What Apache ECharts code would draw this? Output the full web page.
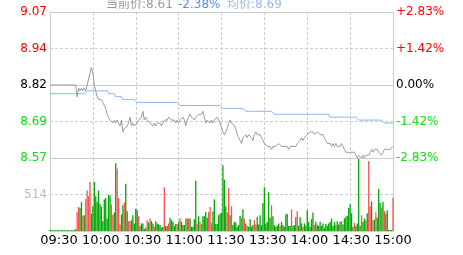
<!DOCTYPE html>
<html><head><meta charset="utf-8">
<script src="https://cdn.jsdelivr.net/npm/echarts@6/dist/echarts.min.js"></script>
<style>html,body{margin:0;padding:0;background:#fff}#c{width:463px;height:255px}</style>
</head><body><div id="c"></div>
<script>
const prevClose = 8.82;
const priceStep = 0.1248;
const prices = [
 8.82,8.82,8.82,8.82,8.82,8.82,8.82,8.82,8.82,8.82,
 8.82,8.82,8.82,8.82,8.82,8.82,8.82,8.82,8.82,8.78,
 8.81,8.80,8.81,8.80,8.81,8.80,8.82,8.84,8.86,8.88,
 8.86,8.82,8.80,8.78,8.77,8.77,8.77,8.76,8.75,8.74,
 8.72,8.71,8.70,8.70,8.69,8.70,8.69,8.70,8.69,8.68,
 8.70,8.66,8.67,8.67,8.68,8.69,8.71,8.68,8.69,8.68,
 8.68,8.69,8.70,8.70,8.71,8.73,8.70,8.71,8.70,8.70,
 8.69,8.69,8.68,8.69,8.68,8.69,8.69,8.69,8.68,8.69,
 8.70,8.70,8.70,8.71,8.71,8.70,8.70,8.70,8.69,8.70,
 8.69,8.70,8.70,8.71,8.70,8.68,8.70,8.71,8.72,8.71,
 8.71,8.70,8.71,8.71,8.72,8.72,8.72,8.73,8.71,8.69,
 8.70,8.70,8.69,8.70,8.69,8.70,8.70,8.71,8.70,8.69,
 8.69,8.66,8.65,8.66,8.67,8.69,8.70,8.69,8.69,8.68,
 8.67,8.65,8.64,8.63,8.62,8.64,8.64,8.65,8.64,8.65,
 8.65,8.64,8.63,8.65,8.66,8.65,8.65,8.65,8.64,8.63,
 8.62,8.62,8.61,8.61,8.61,8.60,8.61,8.61,8.61,8.61,
 8.62,8.62,8.61,8.61,8.61,8.61,8.61,8.60,8.61,8.61,
 8.61,8.61,8.61,8.62,8.62,8.63,8.64,8.63,8.64,8.64,
 8.65,8.65,8.66,8.66,8.66,8.65,8.65,8.66,8.66,8.65,
 8.65,8.65,8.64,8.63,8.62,8.62,8.62,8.61,8.62,8.61,
 8.62,8.61,8.61,8.61,8.62,8.61,8.60,8.59,8.59,8.59,
 8.59,8.59,8.59,8.59,8.58,8.57,8.58,8.58,8.57,8.58,
 8.57,8.58,8.58,8.58,8.59,8.60,8.59,8.60,8.60,8.60,
 8.59,8.59,8.58,8.59,8.60,8.60,8.60,8.60,8.60,8.60,
 8.61];
const avgPrices = [
 8.79,8.79,8.79,8.79,8.79,8.79,8.79,8.79,8.79,8.79,
 8.79,8.79,8.79,8.79,8.79,8.79,8.79,8.79,8.79,8.79,
 8.79,8.79,8.79,8.79,8.79,8.79,8.80,8.80,8.80,8.80,
 8.80,8.80,8.80,8.80,8.80,8.80,8.80,8.80,8.80,8.80,
 8.80,8.79,8.79,8.79,8.79,8.79,8.78,8.78,8.78,8.78,
 8.78,8.77,8.77,8.77,8.77,8.77,8.77,8.77,8.77,8.77,
 8.77,8.76,8.76,8.76,8.76,8.76,8.76,8.76,8.76,8.76,
 8.76,8.76,8.76,8.76,8.76,8.76,8.76,8.76,8.76,8.76,
 8.76,8.76,8.76,8.76,8.76,8.76,8.76,8.76,8.76,8.76,
 8.76,8.75,8.75,8.75,8.75,8.75,8.75,8.75,8.75,8.75,
 8.75,8.75,8.75,8.75,8.75,8.75,8.75,8.75,8.75,8.75,
 8.75,8.75,8.75,8.75,8.75,8.75,8.75,8.75,8.75,8.75,
 8.75,8.74,8.74,8.74,8.74,8.74,8.74,8.74,8.74,8.74,
 8.74,8.74,8.74,8.74,8.74,8.74,8.74,8.73,8.73,8.73,
 8.73,8.73,8.73,8.73,8.73,8.73,8.73,8.73,8.73,8.73,
 8.73,8.73,8.73,8.73,8.73,8.73,8.73,8.72,8.72,8.72,
 8.72,8.72,8.72,8.72,8.72,8.72,8.72,8.72,8.72,8.72,
 8.72,8.72,8.72,8.72,8.72,8.72,8.72,8.72,8.72,8.72,
 8.72,8.72,8.72,8.72,8.72,8.72,8.72,8.72,8.72,8.72,
 8.72,8.72,8.72,8.72,8.72,8.72,8.71,8.71,8.71,8.71,
 8.71,8.71,8.71,8.71,8.71,8.71,8.71,8.71,8.71,8.71,
 8.71,8.71,8.71,8.71,8.71,8.71,8.70,8.70,8.70,8.70,
 8.70,8.70,8.70,8.70,8.70,8.70,8.70,8.70,8.70,8.70,
 8.70,8.70,8.70,8.70,8.69,8.69,8.69,8.69,8.69,8.69,
 8.69];
const volumes = [
 15,12,12,12,12,12,12,12,12,12,
 12,12,12,12,12,12,12,12,28,268,
 338,324,407,213,222,449,570,491,695,245,
 352,695,491,407,570,375,338,139,445,463,
 176,510,500,375,230,259,955,880,463,93,
 230,361,398,667,278,139,139,153,222,107,
 315,292,208,70,107,107,28,46,153,120,
 176,139,107,65,139,107,93,83,46,56,
 616,70,70,107,185,153,130,70,97,97,
 130,176,130,83,83,176,176,176,176,60,
 60,167,709,102,208,130,97,208,208,268,
 185,268,338,116,278,445,97,97,222,245,
 259,927,723,348,260,602,222,348,83,130,
 120,60,83,213,185,306,176,107,74,60,
 167,60,83,153,93,199,93,222,83,394,
 616,107,130,547,185,361,208,83,60,74,
 107,74,130,83,60,231,241,74,74,306,
 74,83,194,278,74,194,107,60,107,74,
 292,130,60,167,259,83,130,83,70,130,
 70,107,46,97,74,107,130,176,70,130,
 83,139,93,130,139,93,176,199,213,329,
 375,250,60,115,70,106,1019,74,222,130,
 176,153,250,987,345,417,153,162,264,185,
 593,394,329,408,283,245,292,14,14,14,
 468];
const volDir = (
 'gggggggggg'+'gggggggggr'+'rggrgrrrrg'+'gggggggggg'+'gggrrggrrr'+
 'ggrggrrggg'+'ggrgggggrg'+'rggrgggggg'+'rggrgggggr'+'grgggrgrgg'+
 'gggrgrrggg'+'grrrgggggg'+'ggggrrgrgg'+'ggggrgrgrg'+'gggrrggggg'+
 'gggggrgggg'+'grgggggggr'+'gggrgggrgg'+'gggggrgggg'+'gggggggggg'+
 'rgggrggggg'+'gggrggggrg'+'grgrrgrgrg'+'ggrgrggggg'+'r').split('');
const leftTickLabels = ['8.57','8.69','8.82','8.94','9.07'];
const rightTickLabels = ['-2.83%','-1.42%','0.00%','+1.42%','+2.83%'];
const tickColors = ['#11dd11','#11dd11','#000000','#ff0000','#ff0000'];
const volTickLabels = {514: '514'};
const timeLabels = ['09:30','10:00','10:30','11:00','11:30','13:30','14:00','14:30','15:00'];
const header = [
  {text: '当前价:8.61', color: '#999999', left: 106},
  {text: '-2.38%', color: '#5b8de0', left: 178},
  {text: '均价:8.69', color: '#9ab8ee', left: 227}
];

const minuteSlots = prices.map((_, i) => i);
const toUnit = p => +((p - prevClose) / priceStep).toFixed(4);
const gridLine = '#cccccc';
const dash = [3, 2];
const vSplit = {show: true, interval: (idx) => idx % 30 === 0 && idx > 0 && idx < 240,
  lineStyle: {color: gridLine, type: dash, width: 1}};
const FONT = 'DejaVu Sans, Noto Sans CJK SC, sans-serif';

const chart = echarts.init(document.getElementById('c'), null, {renderer: 'canvas'});
chart.setOption({
  animation: false,
  title: header.map(h => ({text: h.text, left: h.left, top: -1, padding: 0,
    textStyle: {fontSize: 12, fontWeight: 'normal', color: h.color, fontFamily: FONT}})),
  grid: [
    {left: 50, right: 70, top: 12, height: 146},
    {left: 50, right: 70, top: 158, height: 73},
    {left: 59, right: 70, top: 230, height: 1}
  ],
  xAxis: [
    {gridIndex: 0, type: 'category', data: minuteSlots, boundaryGap: false,
     axisLine: {show: false}, axisTick: {show: false}, axisLabel: {show: false}, splitLine: vSplit},
    {gridIndex: 1, type: 'category', data: minuteSlots, boundaryGap: false,
     axisLine: {show: true, lineStyle: {color: gridLine}}, axisTick: {show: false},
     axisLabel: {show: false}, splitLine: vSplit},
    {gridIndex: 2, type: 'category', data: timeLabels, boundaryGap: false,
     axisLine: {show: false}, axisTick: {show: false}, splitLine: {show: false},
     axisLabel: {show: true, interval: 0, margin: 3, fontSize: 13, color: '#000', fontFamily: FONT}}
  ],
  yAxis: [
    {gridIndex: 0, type: 'value', position: 'left', min: -2, max: 2, interval: 1,
     axisLine: {show: true, lineStyle: {color: gridLine}}, axisTick: {show: false},
     axisLabel: {margin: 3, fontSize: 12, fontFamily: FONT,
       formatter: v => leftTickLabels[Math.round(Number(v)) + 2],
       color: v => tickColors[Math.round(Number(v)) + 2]},
     splitLine: {show: true, lineStyle: {color: gridLine, type: dash}}},
    {gridIndex: 0, type: 'value', position: 'right', min: -2, max: 2, interval: 1,
     axisLine: {show: true, lineStyle: {color: gridLine}}, axisTick: {show: false},
     axisLabel: {margin: 3, fontSize: 12, fontFamily: FONT,
       formatter: v => rightTickLabels[Math.round(Number(v)) + 2],
       color: v => tickColors[Math.round(Number(v)) + 2]},
     splitLine: {show: false}},
    {gridIndex: 0, type: 'value', position: 'left', offset: 0, min: -2, max: 2, interval: 2,
     axisLine: {show: false}, axisTick: {show: false}, axisLabel: {show: false},
     splitLine: {show: true, lineStyle: {color: gridLine, type: 'solid'}}},
    {gridIndex: 1, type: 'value', position: 'left', min: 0, max: 1028, interval: 514,
     axisLine: {show: true, lineStyle: {color: gridLine}}, axisTick: {show: false},
     axisLabel: {margin: 3, fontSize: 12, fontFamily: FONT, color: '#bbbbbb',
       formatter: v => volTickLabels[v] || ''},
     splitLine: {show: true, lineStyle: {color: gridLine, type: dash}}},
    {gridIndex: 1, type: 'value', position: 'right', min: 0, max: 1028, interval: 514,
     axisLine: {show: true, lineStyle: {color: gridLine}}, axisTick: {show: false},
     axisLabel: {show: false}, splitLine: {show: false}},
    {gridIndex: 2, type: 'value', show: false, min: 0, max: 1}
  ],
  series: [
    {type: 'line', xAxisIndex: 0, yAxisIndex: 0, data: avgPrices.map(toUnit),
     showSymbol: false, symbol: 'none', lineStyle: {color: '#8cb0f0', width: 1}, silent: true},
    {type: 'line', xAxisIndex: 0, yAxisIndex: 0, data: prices.map(toUnit),
     showSymbol: false, symbol: 'none', lineStyle: {color: '#999999', width: 1}, silent: true},
    {type: 'bar', xAxisIndex: 1, yAxisIndex: 3, barWidth: 1.3, silent: true,
     data: volumes.map((v, i) => ({value: v, itemStyle: {color: volDir[i] === 'r' ? '#ff5050' : '#00a800'}}))}
  ]
});
</script></body></html>
